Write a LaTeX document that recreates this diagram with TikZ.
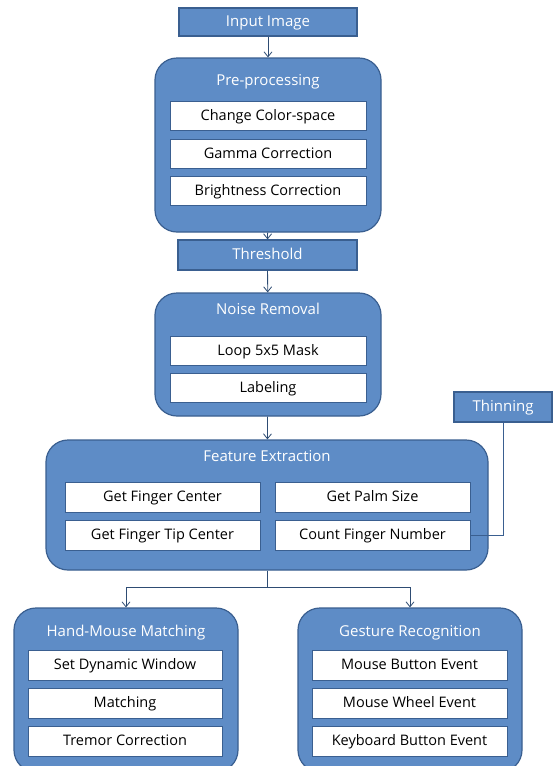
\documentclass[tikz,border=0pt]{standalone}
\usepackage{fontspec}
\setmainfont{Open Sans}
\usetikzlibrary{arrows.meta}

\definecolor{stageblue}{HTML}{5E8CC6}
\definecolor{stageedge}{HTML}{3A5F90}

\tikzset{
  stagebox/.style={draw=stageedge,line width=1.2pt,fill=stageblue,rounded corners=22pt},
  flatbox/.style={draw=stageedge,line width=1.2pt,fill=stageblue,text=white,font=\fontsize{15}{17}\selectfont,inner sep=0pt,text height=11pt,text depth=1.5pt},
  stagetitle/.style={text=white,font=\fontsize{15}{17}\selectfont,text height=11pt,text depth=1.5pt},
  taskbox/.style={draw=stageedge,line width=0.8pt,fill=white,text=black,font=\fontsize{14.5}{16}\selectfont,inner sep=0pt,text height=10.5pt,text depth=1.5pt},
  flow/.style={draw=stageedge!80!black,line width=0.8pt,-{Straight Barb[length=5pt,width=8pt]}}
}

\begin{document}
\begin{tikzpicture}[x=1pt,y=-1pt]
  \useasboundingbox[fill=white] (0,0) rectangle (555,766);

  % input and pre-processing
  \node[flatbox,minimum width=178pt,minimum height=28pt] (input) at (268,22) {Input Image};
  \node[stagebox,minimum width=226pt,minimum height=174pt] (pre) at (268,145) {};
  \node[stagetitle] (pretitle) at (268,81) {Pre-processing};
  \node[taskbox,minimum width=196pt,minimum height=29pt] (color) at (268,115.5) {Change Color-space};
  \node[taskbox,minimum width=196pt,minimum height=29pt] (gamma) at (268,153.5) {Gamma Correction};
  \node[taskbox,minimum width=196pt,minimum height=29pt] (bright) at (268,190.5) {Brightness Correction};

  % threshold and noise removal
  \node[flatbox,minimum width=179pt,minimum height=30pt] (thr) at (267.5,255) {Threshold};
  \node[stagebox,minimum width=226pt,minimum height=123pt] (noise) at (268,354.5) {};
  \node[stagetitle] (noisetitle) at (268,310) {Noise Removal};
  \node[taskbox,minimum width=196pt,minimum height=29pt] (mask) at (268,350.5) {Loop 5x5 Mask};
  \node[taskbox,minimum width=196pt,minimum height=29pt] (label) at (268,387.5) {Labeling};

  % feature extraction
  \node[stagebox,minimum width=442pt,minimum height=130pt] (feat) at (267,505) {};
  \node[stagetitle] (feattitle) at (267,457) {Feature Extraction};
  \node[taskbox,minimum width=195pt,minimum height=30pt] (fcenter) at (162.5,497) {Get Finger Center};
  \node[taskbox,minimum width=195pt,minimum height=30pt] (palm) at (372.5,497) {Get Palm Size};
  \node[taskbox,minimum width=195pt,minimum height=30pt] (tip) at (162.5,535) {Get Finger Tip Center};
  \node[taskbox,minimum width=195pt,minimum height=30pt] (count) at (372.5,535) {Count Finger Number};
  \node[flatbox,minimum width=98pt,minimum height=30pt] (thin) at (503,407) {Thinning};

  % hand-mouse matching
  \node[stagebox,minimum width=224pt,minimum height=164pt] (hand) at (126,690) {};
  \node[stagetitle] (handtitle) at (126,632) {Hand-Mouse Matching};
  \node[taskbox,minimum width=194pt,minimum height=30pt] (window) at (125,665) {Set Dynamic Window};
  \node[taskbox,minimum width=194pt,minimum height=30pt] (match) at (125,703) {Matching};
  \node[taskbox,minimum width=194pt,minimum height=30pt] (tremor) at (125,741) {Tremor Correction};

  % gesture recognition
  \node[stagebox,minimum width=224pt,minimum height=164pt] (gest) at (410,690) {};
  \node[stagetitle] (gesttitle) at (410,632) {Gesture Recognition};
  \node[taskbox,minimum width=195pt,minimum height=30pt] (button) at (409.5,665) {Mouse Button Event};
  \node[taskbox,minimum width=195pt,minimum height=30pt] (wheel) at (409.5,703) {Mouse Wheel Event};
  \node[taskbox,minimum width=195pt,minimum height=30pt] (keys) at (409.5,741) {Keyboard Button Event};

  % connectors
  \draw[flow] (input) -- (pre);
  \draw[flow] (pre) -- (thr);
  \draw[flow] (thr) -- (noise);
  \draw[flow] (noise) -- (feat);
  \draw[draw=stageedge,line width=1pt] (thin.south) |- (count.east);
  \draw[draw=stageedge!80!black,line width=0.8pt] (feat.south) -- ++(0,17) coordinate (split);
  \draw[flow] (split) -| (hand.north);
  \draw[flow] (split) -| (gest.north);
\end{tikzpicture}
\end{document}
